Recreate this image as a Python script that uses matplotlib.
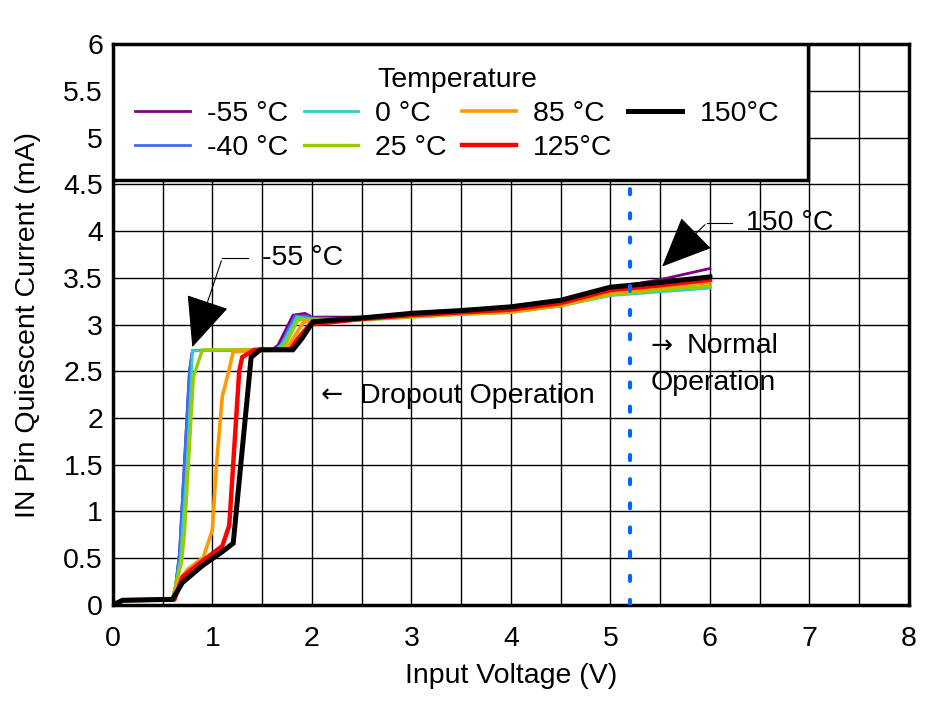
import matplotlib
matplotlib.use('Agg')
import matplotlib.pyplot as plt
import matplotlib.patches as mpatches

plt.rcParams['font.family'] = ['Liberation Sans', 'DejaVu Sans']
plt.rcParams['font.size'] = 20.5

# Series data (Input voltage V, current mA)
temps = ['-55 °C', '-40 °C', '0 °C', '25 °C', '85 °C', '125°C', '150°C']
colors = ['#800080', '#3a6ff5', '#33cccc', '#99cc00', '#ff9900', '#ff0000', '#000000']
widths = [2.0, 2.0, 2.0, 2.4, 2.6, 3.2, 3.6]

v_m55 = [0, 0.1, 0.6, 0.63, 0.67, 0.77, 0.8, 1.6, 1.66, 1.81, 1.93, 2.0, 2.5, 3.0, 3.5, 4.0, 4.5, 5.0, 5.5, 6.0]
i_m55 = [0, 0.05, 0.06, 0.2, 0.55, 2.5, 2.72, 2.73, 2.78, 3.1, 3.12, 3.08, 3.08, 3.12, 3.15, 3.18, 3.25, 3.39, 3.48, 3.6]

v_m40 = [0, 0.1, 0.6, 0.63, 0.67, 0.77, 0.8, 1.62, 1.69, 1.83, 1.95, 2.0, 2.5, 3.0, 3.5, 4.0, 4.5, 5.0, 5.5, 6.0]
i_m40 = [0, 0.05, 0.06, 0.2, 0.55, 2.5, 2.72, 2.73, 2.78, 3.09, 3.09, 3.07, 3.06, 3.09, 3.12, 3.14, 3.21, 3.33, 3.37, 3.41]

v_0 = [0, 0.1, 0.6, 0.63, 0.68, 0.745, 0.79, 0.8, 1.64, 1.71, 1.85, 2.0, 2.5, 3.0, 3.5, 4.0, 4.5, 5.0, 5.5, 6.0]
i_0 = [0, 0.05, 0.06, 0.2, 0.5, 1.48, 2.44, 2.72, 2.73, 2.8, 3.08, 3.06, 3.05, 3.08, 3.11, 3.13, 3.2, 3.31, 3.35, 3.39]

v_25 = [0, 0.1, 0.6, 0.64, 0.69, 0.72, 0.81, 0.9, 1.68, 1.74, 1.86, 2.0, 2.5, 3.0, 3.5, 4.0, 4.5, 5.0, 5.5, 6.0]
i_25 = [0, 0.05, 0.06, 0.25, 0.45, 0.77, 2.44, 2.73, 2.73, 2.8, 3.05, 3.05, 3.05, 3.08, 3.11, 3.13, 3.2, 3.32, 3.37, 3.41]

v_85 = [0, 0.1, 0.6, 0.66, 0.75, 0.91, 1.0, 1.04, 1.1, 1.16, 1.21, 1.72, 1.78, 1.92, 2.0, 2.5, 3.0, 3.5, 4.0, 4.5, 5.0, 5.5, 6.0]
i_85 = [0, 0.05, 0.06, 0.25, 0.38, 0.51, 0.8, 1.48, 2.23, 2.48, 2.71, 2.73, 2.8, 3.03, 3.04, 3.06, 3.09, 3.12, 3.14, 3.21, 3.34, 3.4, 3.45]

v_125 = [0, 0.1, 0.62, 0.7, 0.9, 1.1, 1.17, 1.27, 1.3, 1.42, 1.78, 1.86, 1.98, 2.5, 3.0, 3.5, 4.0, 4.5, 5.0, 5.5, 6.0]
i_125 = [0, 0.05, 0.06, 0.3, 0.47, 0.63, 0.85, 2.5, 2.65, 2.73, 2.73, 2.85, 3.0, 3.06, 3.1, 3.13, 3.16, 3.23, 3.37, 3.42, 3.48]

v_150 = [0, 0.1, 0.6, 0.7, 0.9, 1.1, 1.21, 1.39, 1.48, 1.81, 1.9, 2.01, 2.5, 3.0, 3.5, 4.0, 4.5, 5.0, 5.5, 6.0]
i_150 = [0, 0.05, 0.06, 0.24, 0.42, 0.57, 0.66, 2.65, 2.73, 2.73, 2.85, 3.03, 3.07, 3.12, 3.15, 3.19, 3.26, 3.4, 3.45, 3.51]

volts = [v_m55, v_m40, v_0, v_25, v_85, v_125, v_150]
currents = [i_m55, i_m40, i_0, i_25, i_85, i_125, i_150]

boundary_v = 5.2

fig = plt.figure(figsize=(9.4, 7.01), dpi=100)
ax = fig.add_axes([0.120, 0.137, 0.847, 0.800])

for v, i, c, w, t in zip(volts, currents, colors, widths, temps):
    ax.plot(v, i, color=c, lw=w, label=t, solid_joinstyle='miter')

# dropout / normal boundary
ax.plot([boundary_v, boundary_v], [0, 4.5], color='#0066ff', lw=3,
        dashes=(1.2, 4.6), dash_capstyle='round', zorder=5)

ax.set_xlim(0, 8)
ax.set_ylim(0, 6)
ax.set_xticks(range(0, 9))
ax.set_xticks([x + 0.5 for x in range(8)], minor=True)
ax.set_yticks([k * 0.5 for k in range(13)])
ax.set_yticklabels(['0', '0.5', '1', '1.5', '2', '2.5', '3', '3.5', '4', '4.5', '5', '5.5', '6'])
ax.grid(True, which='both', color='black', lw=1.0)
ax.set_axisbelow(True)
ax.tick_params(axis='x', which='both', length=0, pad=15)
ax.tick_params(axis='y', which='both', length=0, pad=7)
for s in ax.spines.values():
    s.set_linewidth(2.5)
ax.set_xlabel('Input Voltage (V)', labelpad=8)
ax.set_ylabel('IN Pin Quiescent Current (mA)', labelpad=16)

# annotations
ax.plot([1.10, 1.36], [3.71, 3.71], color='black', lw=0.8)
ax.annotate('', xy=(0.79, 2.73), xytext=(1.10, 3.71),
            arrowprops=dict(arrowstyle='-|>,head_length=1.6,head_width=0.7', color='black', lw=0.8))
ax.text(1.50, 3.71, '-55 °C', va='center', ha='left')

ax.plot([5.97, 6.22], [4.09, 4.09], color='black', lw=0.8)
ax.annotate('', xy=(5.5, 3.6), xytext=(5.97, 4.09),
            arrowprops=dict(arrowstyle='-|>,head_length=1.6,head_width=0.7', color='black', lw=0.8))
ax.text(6.36, 4.09, '150 °C', va='center', ha='left')

ax.text(2.09, 2.24, '\u2190', va='center', ha='left', family='DejaVu Sans', fontsize=19)
ax.text(2.48, 2.24, 'Dropout Operation', va='center', ha='left')
ax.text(5.40, 2.77, '\u2192', va='center', ha='left', family='DejaVu Sans', fontsize=19)
ax.text(5.77, 2.77, 'Normal', va='center', ha='left')
ax.text(5.40, 2.38, 'Operation', va='center', ha='left')

# legend box
box = mpatches.Rectangle((0, 0.758), 0.873, 0.242, transform=ax.transAxes,
                         facecolor='white', edgecolor='black', lw=2.5, zorder=8)
ax.add_patch(box)
leg = ax.legend(title='Temperature', ncol=4, loc='upper left',
                bbox_to_anchor=(0.0285, 0.959), frameon=False,
                handlelength=1.9, handletextpad=0.6, columnspacing=0.55,
                labelspacing=0.28, borderpad=0, borderaxespad=0,
                fontsize=20.5, title_fontsize=20.5)
leg.set_zorder(9)

fig.savefig('out.png', dpi=100)
